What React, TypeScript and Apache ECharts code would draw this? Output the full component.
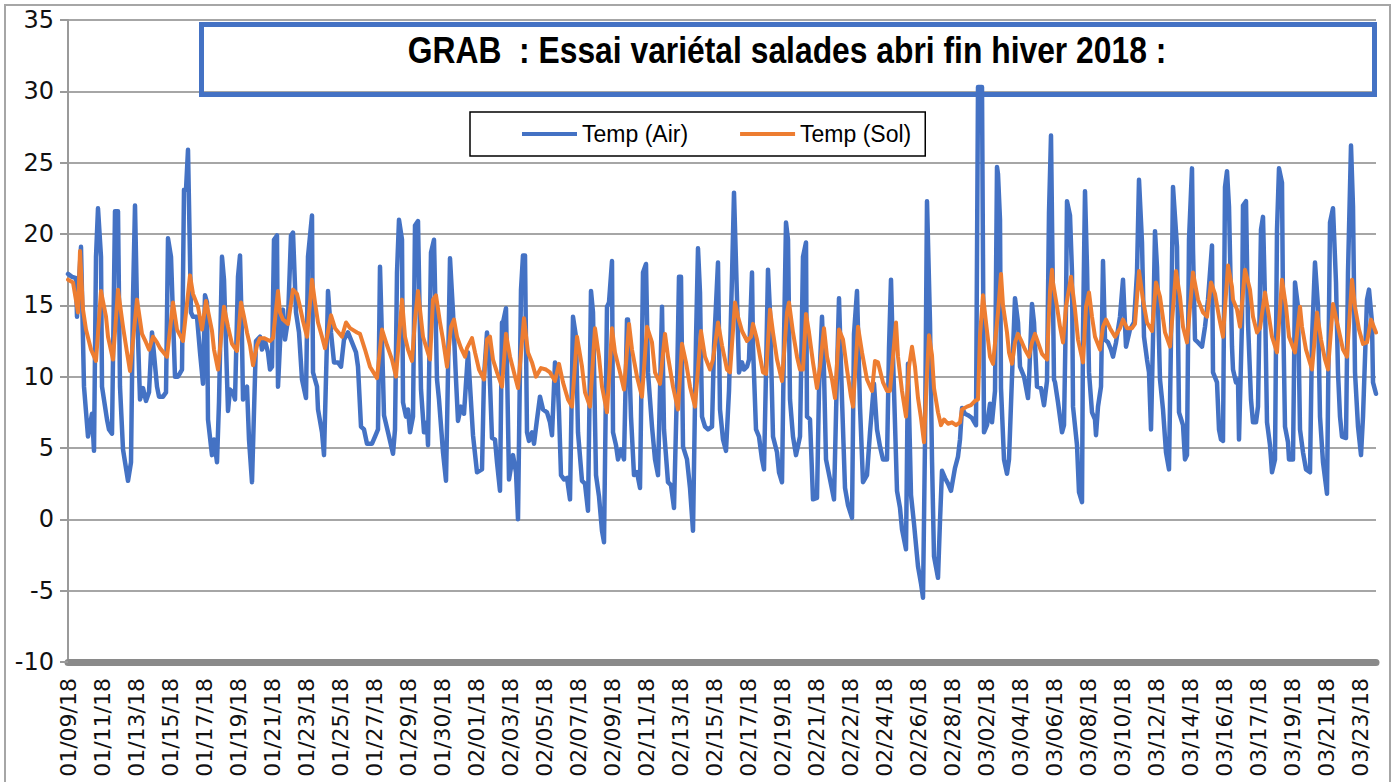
import React, { useEffect, useRef } from "react";
import * as echarts from "echarts";

// x axis: logger reading index; one date label every 34 readings
const readingsPerLabel = 34;
const lastReading = 1308;

const tickLabels = [
  "01/09/18", "01/11/18", "01/13/18", "01/15/18", "01/17/18", "01/19/18", "01/21/18", "01/23/18",
  "01/25/18", "01/27/18", "01/29/18", "01/30/18", "02/01/18", "02/03/18", "02/05/18", "02/07/18",
  "02/09/18", "02/11/18", "02/13/18", "02/15/18", "02/17/18", "02/19/18", "02/21/18", "02/22/18",
  "02/24/18", "02/26/18", "02/28/18", "03/02/18", "03/04/18", "03/06/18", "03/08/18", "03/10/18",
  "03/12/18", "03/14/18", "03/16/18", "03/17/18", "03/19/18", "03/21/18", "03/23/18",
];

const seriesNames = ["Temp (Air)", "Temp (Sol)"];
const seriesColors = ["#4472C4", "#ED7D31"];

// [reading index, °C]
const airTemp: [number, number][] = [
  [0,17.2],[4,17.0],[8,16.9],[9,14.2],[13,19.1],[16,9.3],[20,5.8],[24,7.4],[26,4.8],[28,18.4],[30,21.8],[33,18.4],[34,9.3],[39,7.0],[41,6.3],[44,6.0],[47,21.6],[50,21.6],[52,9.3],[55,4.9],[60,2.7],[63,4.0],[65,15.5],[67,22.0],[69,14.9],[72,8.4],[75,9.2],[78,8.3],[81,8.9],[84,13.1],[89,9.3],[91,8.6],[95,8.6],[98,8.9],
  [100,19.7],[103,18.4],[107,10.0],[110,10.0],[114,10.5],[116,23.1],[118,23.1],[120,25.9],[123,14.5],[125,14.2],[129,14.2],[132,11.7],[135,9.5],[137,15.7],[139,15.2],[140,7.0],[144,4.5],[146,5.6],[149,4.0],[151,8.2],[154,18.4],[156,16.8],[160,7.6],[162,9.1],[165,8.9],[167,8.4],[170,17.0],[172,18.5],[174,12.6],[175,8.4],[179,9.3],[181,5.6],[184,2.6],[188,12.5],[192,12.8],[194,11.9],[197,12.5],
  [200,11.7],[202,10.5],[204,10.7],[206,19.6],[209,19.9],[210,9.3],[213,13.8],[215,14.7],[217,12.6],[220,14.0],[223,19.9],[225,20.1],[228,14.5],[231,13.1],[234,9.8],[238,8.5],[240,18.4],[244,21.3],[245,10.3],[249,9.3],[250,7.7],[254,6.1],[256,4.5],[259,12.6],[260,16.0],[263,13.1],[266,11.0],[270,11.0],[273,10.7],[276,12.6],[280,13.1],[284,12.4],[288,11.7],[290,10.7],[293,6.5],[296,6.3],[299,5.3],
  [304,5.3],[307,5.8],[310,6.3],[312,17.7],[314,12.6],[316,7.3],[320,6.1],[325,4.6],[327,6.3],[329,17.3],[331,21.0],[334,19.6],[335,8.2],[338,7.2],[340,7.7],[342,6.1],[345,7.2],[347,20.6],[350,20.9],[353,9.1],[356,6.1],[359,6.8],[360,5.2],[363,18.7],[366,19.6],[369,9.8],[371,8.4],[375,4.7],[378,2.7],[380,10.3],[382,18.3],[385,14.5],[388,9.8],[390,6.9],[393,7.9],[396,7.4],
  [400,11.7],[405,5.9],[409,3.3],[414,3.5],[416,10.0],[419,13.1],[421,11.4],[424,5.7],[427,5.6],[429,4.0],[432,2.0],[434,13.8],[435,13.8],[438,14.8],[441,2.8],[445,4.5],[448,3.3],[450,0.0],[453,16.1],[455,18.5],[457,18.5],[459,6.1],[461,5.5],[464,6.1],[466,5.3],[469,7.0],[472,8.6],[475,7.7],[479,7.5],[482,6.8],[484,5.9],[487,11.0],[489,10.7],[491,7.5],[493,3.1],[496,2.8],[499,2.9],
  [502,1.4],[505,14.2],[508,12.8],[510,6.1],[514,2.7],[517,2.5],[520,0.6],[523,16.0],[525,14.5],[528,3.1],[531,1.6],[534,-0.8],[536,-1.6],[539,14.9],[541,15.2],[544,18.1],[545,6.1],[548,5.2],[550,4.2],[553,4.9],[556,4.2],[559,14.0],[560,14.0],[563,7.2],[566,3.1],[569,3.3],[572,2.2],[575,17.3],[578,17.9],[580,10.3],[584,6.5],[587,4.2],[590,3.1],[594,14.9],[596,6.3],
  [600,2.6],[603,2.4],[606,0.8],[609,9.3],[611,17.0],[613,17.0],[615,5.1],[619,4.2],[622,2.2],[625,-0.8],[628,12.6],[630,19.0],[632,15.9],[634,7.2],[637,6.5],[640,6.3],[644,6.5],[646,12.1],[650,18.0],[652,7.7],[655,5.6],[658,4.8],[661,9.0],[664,17.0],[666,22.9],[669,15.5],[671,10.3],[674,11.0],[676,10.5],[679,10.7],[681,11.2],[684,17.3],[685,12.1],[688,6.3],[691,5.8],[694,4.2],[696,3.5],[698,10.3],
  [700,17.5],[702,14.5],[705,5.8],[709,4.7],[711,3.3],[714,2.6],[716,12.6],[718,20.8],[720,19.6],[722,8.4],[725,5.8],[728,4.5],[732,5.8],[735,18.4],[738,19.4],[739,7.2],[742,7.0],[745,1.4],[749,1.5],[751,9.1],[754,14.2],[756,10.3],[758,4.2],[762,2.8],[766,1.4],[769,10.3],[771,15.5],[774,8.4],[777,2.2],[780,1.0],[784,0.1],[786,13.0],[789,16.0],[792,7.9],[795,2.6],[799,3.1],
  [802,6.1],[806,9.5],[809,6.3],[812,5.1],[815,4.2],[819,4.2],[821,12.0],[823,16.8],[825,11.4],[829,2.0],[832,0.8],[834,-0.7],[838,-2.1],[840,10.9],[843,1.7],[846,-0.3],[850,-3.3],[853,-4.5],[855,-5.5],[857,5.4],[859,22.3],[862,13.8],[864,4.2],[866,-2.6],[870,-4.1],[872,-0.1],[874,3.4],[877,2.9],[880,2.5],[883,2.0],[887,3.6],[890,4.4],[892,5.6],[894,7.8],[897,7.4],
  [900,7.3],[904,7.1],[908,6.6],[910,30.3],[914,30.3],[916,6.1],[919,6.6],[922,8.1],[924,6.8],[927,9.0],[929,24.7],[930,24.2],[932,21.0],[933,9.2],[936,4.2],[939,3.2],[941,4.2],[944,10.0],[947,15.5],[950,13.8],[952,10.7],[956,10.0],[960,8.5],[961,9.7],[964,15.1],[966,13.8],[969,9.3],[973,9.2],[976,8.0],[979,9.7],[981,21.5],[983,26.9],[984,21.0],[986,9.8],[987,9.6],[990,8.2],[994,6.1],[996,6.6],[998,14.9],[999,22.3],
  [1002,21.3],[1004,17.3],[1005,7.9],[1009,5.2],[1011,1.9],[1014,1.2],[1015,13.1],[1017,23.0],[1019,17.7],[1021,10.3],[1024,7.5],[1027,7.0],[1028,5.9],[1030,7.9],[1033,9.3],[1035,18.1],[1037,12.6],[1040,12.4],[1043,11.9],[1045,11.4],[1048,12.4],[1052,14.2],[1055,16.8],[1058,12.1],[1062,13.3],[1066,13.8],[1069,17.3],[1071,23.8],[1074,19.4],[1076,12.8],[1079,11.2],[1081,10.3],[1083,6.3],[1085,12.6],[1087,20.2],[1089,17.7],[1092,9.8],[1095,7.7],[1098,4.7],
  [1101,3.5],[1103,12.6],[1105,23.3],[1109,19.1],[1111,7.5],[1115,6.6],[1117,4.2],[1119,4.5],[1121,19.6],[1124,24.6],[1125,18.9],[1127,12.6],[1130,12.4],[1134,12.1],[1137,13.5],[1140,15.4],[1144,19.2],[1145,10.3],[1149,9.6],[1151,6.3],[1153,5.6],[1155,5.5],[1157,23.3],[1159,24.4],[1161,21.9],[1164,12.1],[1165,10.5],[1168,9.6],[1170,9.8],[1171,5.6],[1174,13.8],[1175,22.0],[1178,22.3],[1180,13.8],[1183,8.4],[1185,6.8],[1188,6.8],[1190,7.9],[1193,20.3],[1195,21.2],[1197,15.4],[1199,6.8],
  [1202,5.2],[1204,3.3],[1207,4.2],[1209,20.3],[1211,24.6],[1214,23.6],[1215,14.9],[1217,6.5],[1220,5.4],[1221,4.2],[1225,4.2],[1227,16.6],[1230,14.9],[1232,6.3],[1235,4.7],[1238,3.5],[1242,3.3],[1244,12.6],[1247,18.0],[1250,14.9],[1252,7.2],[1255,4.0],[1259,1.8],[1262,20.8],[1265,21.8],[1268,16.6],[1270,10.3],[1272,7.2],[1274,5.8],[1278,5.7],[1280,17.3],[1283,26.2],[1285,21.9],[1287,10.3],[1290,6.5],[1293,4.5],[1295,7.2],[1299,15.4],
  [1301,16.1],[1304,13.8],[1305,9.6],[1308,8.8],
];

// [reading index, °C]
const solTemp: [number, number][] = [
  [0,16.8],[5,16.6],[10,14.5],[12,18.8],[15,14.7],[18,13.3],[23,11.9],[28,11.1],[33,16.0],[38,14.2],[40,12.8],[45,11.2],[50,16.1],[55,13.5],[59,11.7],[62,10.4],[69,15.4],[74,13.0],[78,12.4],[81,11.9],[85,12.8],[89,12.4],[92,12.0],[99,11.4],
  [105,15.2],[109,13.3],[115,12.5],[122,17.1],[125,15.8],[130,14.9],[134,13.3],[138,15.3],[144,13.2],[146,11.9],[150,10.5],[156,14.9],[160,13.5],[164,12.3],[169,11.8],[173,15.2],[176,14.2],[179,13.1],[182,12.2],[185,10.8],[189,12.2],[192,12.7],[196,12.7],
  [202,12.5],[205,12.7],[210,16.0],[212,14.5],[215,14.0],[220,13.7],[225,16.1],[229,15.8],[232,14.9],[235,13.9],[239,12.8],[244,16.8],[247,15.2],[250,13.8],[254,12.8],[257,12.0],[263,14.3],[267,13.4],[274,12.8],[278,13.8],[282,13.4],[289,13.1],[292,13.0],[297,11.9],
  [302,10.7],[309,9.9],[314,13.3],[319,12.2],[324,11.2],[328,10.0],[334,15.4],[337,12.8],[340,11.9],[344,11.1],[347,14.0],[350,16.0],[355,12.8],[359,11.9],[362,11.2],[365,15.4],[368,15.7],[372,13.8],[375,12.6],[379,10.7],[383,13.5],[386,14.0],[389,12.8],[393,12.0],[397,11.4],[399,12.0],
  [404,12.7],[407,11.7],[411,10.5],[416,9.8],[419,12.6],[422,12.8],[425,11.2],[429,10.3],[434,9.3],[438,13.0],[442,11.4],[446,10.3],[450,9.2],[456,14.1],[460,11.7],[464,11.0],[468,10.0],[473,10.6],[478,10.5],[482,10.3],[487,9.7],[491,10.9],[495,9.6],
  [500,8.4],[504,7.9],[509,12.8],[514,10.7],[517,8.9],[522,7.9],[527,13.4],[531,11.4],[534,9.3],[539,7.5],[544,13.4],[547,11.7],[552,10.3],[556,9.1],[561,13.7],[564,11.9],[569,10.0],[574,8.6],[579,13.5],[584,12.4],[587,10.3],[592,9.5],[597,13.0],
  [600,11.4],[605,9.3],[610,7.7],[614,12.3],[618,11.0],[622,9.3],[627,7.9],[633,13.2],[637,11.4],[642,10.5],[645,11.2],[650,13.8],[654,12.2],[659,10.5],[662,10.3],[667,15.2],[670,14.2],[674,13.2],[679,12.5],[683,12.8],[685,13.7],[689,12.6],[692,11.4],[695,10.3],[698,10.2],
  [702,14.7],[705,13.1],[709,11.2],[714,9.7],[719,14.5],[721,15.2],[725,13.1],[729,11.4],[732,10.5],[735,10.5],[738,14.4],[741,13.1],[745,11.0],[749,9.2],[752,10.7],[756,13.4],[759,11.4],[764,9.8],[767,8.5],[771,13.3],[775,12.6],[779,10.5],[783,8.6],[785,7.9],[790,13.5],[794,11.7],[799,9.8],
  [804,9.0],[807,11.1],[810,11.0],[815,9.6],[819,9.0],[822,9.0],[828,13.8],[830,11.4],[834,9.0],[838,7.2],[841,10.7],[844,12.1],[847,10.7],[850,8.5],[853,7.1],[856,5.4],[859,10.2],[861,12.9],[864,11.5],[866,9.2],[870,7.5],[873,6.6],[876,7.0],[880,6.7],[884,6.8],[888,6.6],[892,6.8],[894,7.7],[899,7.9],
  [903,8.0],[907,8.3],[910,8.4],[912,12.9],[915,15.7],[918,13.8],[922,11.4],[925,10.9],[930,14.5],[933,17.2],[935,15.0],[939,13.1],[941,11.7],[944,10.9],[947,12.4],[950,13.0],[954,12.4],[957,11.9],[961,11.4],[964,12.4],[967,13.0],[970,12.4],[974,11.6],[979,11.2],[982,16.0],[984,17.5],[985,16.6],[989,14.9],[992,13.5],[995,12.4],[998,14.9],
  [1003,17.0],[1007,14.7],[1010,12.6],[1015,11.0],[1018,14.9],[1021,15.9],[1024,14.2],[1027,12.8],[1032,11.9],[1035,13.5],[1038,14.0],[1042,13.4],[1047,12.8],[1052,13.4],[1055,14.0],[1059,13.4],[1064,13.4],[1067,13.7],[1071,17.4],[1075,15.4],[1079,13.8],[1084,13.2],[1088,16.6],[1092,15.6],[1097,13.1],
  [1102,12.1],[1108,17.4],[1112,15.6],[1115,13.5],[1119,12.4],[1125,17.3],[1130,15.4],[1135,14.5],[1139,14.2],[1143,16.6],[1147,15.8],[1151,14.2],[1155,12.8],[1160,17.8],[1164,16.3],[1165,15.4],[1169,14.7],[1172,13.5],[1177,17.5],[1182,16.1],[1185,14.2],[1189,13.1],[1192,13.4],[1197,15.9],
  [1201,14.2],[1204,12.8],[1209,11.7],[1214,16.8],[1218,14.9],[1221,12.8],[1227,11.7],[1232,14.9],[1234,13.5],[1238,11.9],[1244,10.5],[1249,14.5],[1253,12.6],[1257,11.2],[1260,10.5],[1265,15.1],[1270,13.5],[1275,11.9],[1279,11.4],[1284,16.8],[1287,14.9],[1291,13.3],[1295,12.3],[1299,12.4],
  [1303,14.0],[1308,13.1],
];

const titleText = "GRAB  : Essai variétal salades abri fin hiver 2018 :";

export default function App() {
  const ref = useRef<HTMLDivElement>(null);

  useEffect(() => {
    document.body.style.margin = "0";
    if (!ref.current) return;
    const chart = echarts.init(ref.current, undefined, { renderer: "svg" });
    const axisFont = "'DejaVu Sans', Verdana, sans-serif";
    chart.setOption({
      animation: false,
      backgroundColor: "#ffffff",
      grid: { left: 68, right: 19, top: 20, bottom: 120, containLabel: false, outerBoundsMode: "none" },
      legend: {
        data: seriesNames,
        left: 470,
        top: 112,
        orient: "horizontal",
        icon: "rect",
        itemWidth: 55,
        itemHeight: 4,
        itemGap: 52,
        borderColor: "#000000",
        borderWidth: 1.5,
        backgroundColor: "#ffffff",
        padding: [9, 14, 9, 52],
        textStyle: { fontSize: 23, fontFamily: "'Liberation Sans', Arial, sans-serif", color: "#000", lineHeight: 26 },
      },
      xAxis: {
        type: "value",
        min: 0,
        max: lastReading,
        interval: readingsPerLabel,
        axisLine: { show: true, onZero: false, lineStyle: { color: "#8a8a8a", width: 7 } },
        axisTick: { show: false },
        splitLine: { show: false },
        axisLabel: {
          rotate: 90,
          margin: 16,
          fontSize: 22,
          fontFamily: axisFont,
          color: "#111",
          showMaxLabel: false,
          formatter: (v: number) => {
            const i = Math.round(v / readingsPerLabel);
            return Math.abs(v - i * readingsPerLabel) < 0.01 && i < tickLabels.length ? tickLabels[i] : "";
          },
        },
      },
      yAxis: {
        type: "value",
        min: -10,
        max: 35,
        interval: 5,
        axisLine: { show: true, lineStyle: { color: "#9a9a9a", width: 2 } },
        axisTick: { show: true, length: 8, lineStyle: { color: "#9a9a9a", width: 2 } },
        splitLine: { show: true, lineStyle: { color: "#a6a6a6", width: 2 } },
        axisLabel: { fontSize: 24, fontFamily: axisFont, color: "#111", margin: 14 },
      },
      series: [
        {
          name: seriesNames[0],
          type: "line",
          data: airTemp,
          symbol: "none",
          showSymbol: false,
          color: seriesColors[0],
          lineStyle: { color: seriesColors[0], width: 4.5, join: "round", cap: "round" },
          z: 2,
        },
        {
          name: seriesNames[1],
          type: "line",
          data: solTemp,
          symbol: "none",
          showSymbol: false,
          color: seriesColors[1],
          lineStyle: { color: seriesColors[1], width: 4, join: "round", cap: "round" },
          z: 3,
        },
      ],
      graphic: [
        {
          type: "rect",
          shape: { x: 5, y: 5, width: 1385, height: 800 },
          style: { fill: "none", stroke: "#a6a6a6", lineWidth: 2 },
          silent: true,
          z: 0,
        },
        {
          type: "rect",
          shape: { x: 201.5, y: 24.5, width: 1173, height: 70 },
          style: { fill: "none", stroke: "#4472C4", lineWidth: 5 },
          silent: true,
          z: 100,
        },
        {
          type: "text",
          x: 787,
          y: 50,
          scaleX: 0.86,
          style: {
            text: titleText,
            fill: "#000",
            font: "bold 37px 'Liberation Sans', Arial, sans-serif",
            textAlign: "center",
            textVerticalAlign: "middle",
          },
          z: 101,
        },
      ],
    });
    return () => chart.dispose();
  }, []);

  return <div ref={ref} style={{ width: 1395, height: 782 }} />;
}
